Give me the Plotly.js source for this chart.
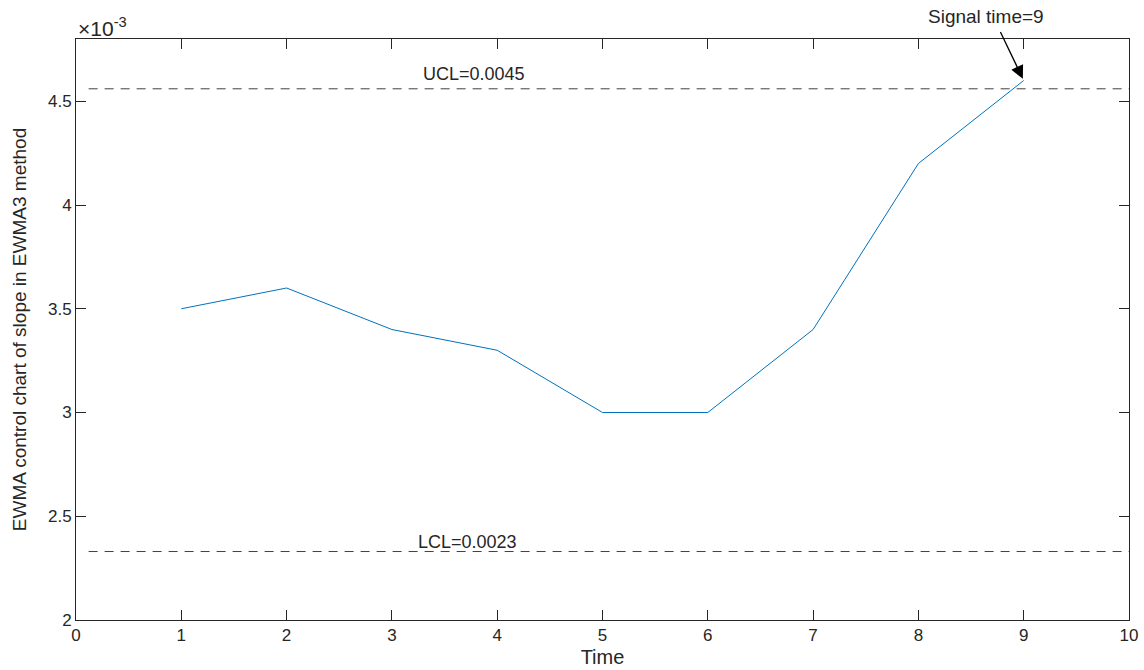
<!DOCTYPE html>
<html>
<head>
<meta charset="utf-8">
<script src="https://cdn.plot.ly/plotly-3.0.1.min.js"></script>
<style>html,body{margin:0;padding:0;background:#fff;}#chart{width:1144px;height:670px;}</style>
</head>
<body>
<div id="chart"></div>
<script>
// Values in units of 10^-3
const time = [1, 2, 3, 4, 5, 6, 7, 8, 9];
const ewmaSlope = [3.5, 3.6, 3.4, 3.3, 3.0, 3.0, 3.4, 4.2, 4.6];
const uclValue = 4.56;
const lclValue = 2.33;
const limitX = [0.12, 10];
const uclLabel = "UCL=0.0045";
const lclLabel = "LCL=0.0023";
const signalLabel = "Signal time=9";
const signalTime = 9;

const font = {family: "Liberation Sans, Arial, sans-serif", color: "#262626"};
const f = s => Object.assign({size: s}, font);

const traces = [
  {x: time, y: ewmaSlope, mode: "lines", line: {color: "#0072BD", width: 1}, hoverinfo: "skip"},
  {x: limitX, y: [uclValue, uclValue], mode: "lines", line: {color: "#404040", width: 1, dash: "9px,7px"}, hoverinfo: "skip"},
  {x: limitX, y: [lclValue, lclValue], mode: "lines", line: {color: "#404040", width: 1, dash: "9px,7px"}, hoverinfo: "skip"}
];

const layout = {
  width: 1144, height: 670,
  margin: {l: 76, r: 15, t: 39, b: 50},
  showlegend: false,
  paper_bgcolor: "#fff", plot_bgcolor: "#fff",
  font: f(16),
  xaxis: {
    range: [0, 10], dtick: 1, tick0: 0,
    showgrid: false, zeroline: false,
    showline: true, linecolor: "#262626", linewidth: 1, mirror: "ticks",
    ticks: "inside", ticklen: 10, tickcolor: "#262626",
    tickfont: f(17),
    title: {text: "Time", font: f(20), standoff: 5}
  },
  yaxis: {
    range: [2, 4.8], dtick: 0.5, tick0: 2,
    showgrid: false, zeroline: false,
    showline: true, linecolor: "#262626", linewidth: 1, mirror: "ticks",
    ticks: "inside", ticklen: 10, tickcolor: "#262626",
    tickfont: f(17),
    title: {text: "EWMA control chart of slope in EWMA3 method", font: f(19), standoff: 16}
  },
  annotations: [
    {xref: "paper", yref: "paper", x: 0, y: 1, xanchor: "left", yanchor: "bottom", yshift: -3,
     text: "×10<sup>-3</sup>", showarrow: false, font: f(21)},
    {x: 3.78, y: uclValue, xref: "x", yref: "y", yanchor: "bottom", yshift: 3, text: uclLabel, showarrow: false, font: f(18)},
    {x: 3.72, y: lclValue, xref: "x", yref: "y", yanchor: "bottom", yshift: -2, text: lclLabel, showarrow: false, font: f(18)},
    {x: signalTime, y: ewmaSlope[ewmaSlope.length - 1], xref: "x", yref: "y", text: "",
     showarrow: true, arrowhead: 2, arrowsize: 2, arrowwidth: 1.3, arrowcolor: "#000",
     ax: -24, ay: -50, standoff: 2},
    {x: signalTime, y: ewmaSlope[ewmaSlope.length - 1], xref: "x", yref: "y", text: signalLabel,
     showarrow: false, xshift: -38, yshift: 64, font: f(19)}
  ]
};

Plotly.newPlot("chart", traces, layout, {displayModeBar: false, staticPlot: true});
</script>
</body>
</html>
